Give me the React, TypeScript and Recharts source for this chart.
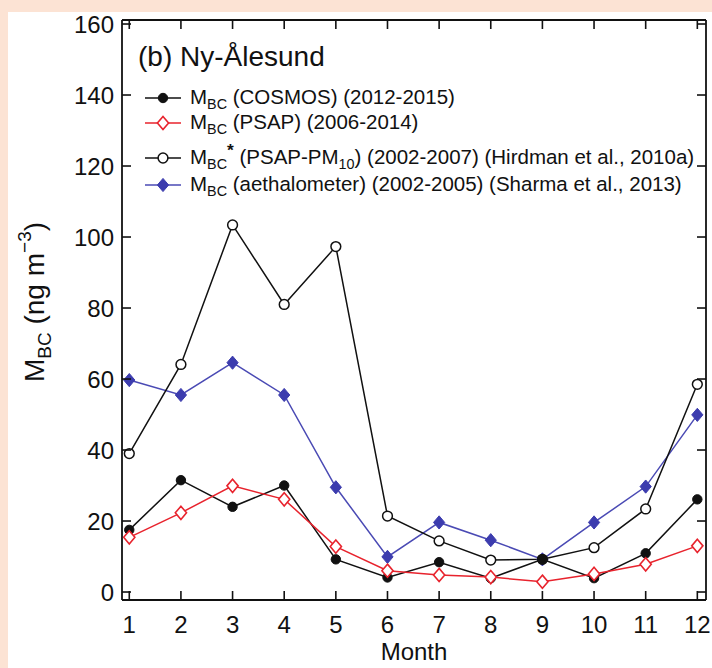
import React from "react";
import { LineChart, Line, XAxis, YAxis, Legend } from "recharts";

// monthly mean black carbon mass concentrations (ng m-3)
const months = [1, 2, 3, 4, 5, 6, 7, 8, 9, 10, 11, 12];
const cosmos = [17.5, 31.5, 24, 30, 9.2, 4.1, 8.4, 3.9, 9.2, 3.9, 10.9, 26.1];
const psap = [15.4, 22.3, 29.9, 26.1, 12.8, 6, 4.8, 4.2, 2.9, 5.1, 7.8, 13];
const psapPm10 = [39, 64.1, 103.4, 81, 97.3, 21.4, 14.4, 9, 9.2, 12.5, 23.4, 58.5];
const aethalometer = [59.7, 55.5, 64.6, 55.5, 29.5, 9.9, 19.6, 14.6, 9.2, 19.6, 29.7, 49.9];
const yTicks = [0, 20, 40, 60, 80, 100, 120, 140, 160];

const data = months.map((m, i) => ({
  month: m,
  cosmos: cosmos[i],
  psap: psap[i],
  psapPm10: psapPm10[i],
  aethalometer: aethalometer[i],
}));

const FONT = "'Liberation Sans', Arial, Helvetica, sans-serif";
const RED = "#e8232d";
const BLUE = "#4a4ab4";
const BLACK = "#111";

// plot box edges (px)
const LEFT = 122;
const RIGHT = 706;
const TOP = 20;
const BOTTOM = 600;
const TICK = 9;

const Marker = ({ kind, cx, cy, color }: any) => {
  if (cx == null || cy == null) return null;
  if (kind === "filledCircle")
    return <circle cx={cx} cy={cy} r={4.7} fill={color} stroke={color} strokeWidth={1} />;
  if (kind === "openCircle")
    return <circle cx={cx} cy={cy} r={4.9} fill="#fff" stroke={color} strokeWidth={1.5} />;
  const w = 5.6;
  const h = 6.6;
  const pts = `${cx},${cy - h} ${cx + w},${cy} ${cx},${cy + h} ${cx - w},${cy}`;
  if (kind === "openDiamond")
    return <polygon points={pts} fill="#fff" stroke={color} strokeWidth={1.6} />;
  return <polygon points={pts} fill="#3c3cae" stroke="#3c3cae" strokeWidth={1} />;
};

const series = [
  { key: "aethalometer", color: BLUE, marker: "filledDiamond" },
  { key: "psapPm10", color: BLACK, marker: "openCircle" },
  { key: "cosmos", color: BLACK, marker: "filledCircle" },
  { key: "psap", color: RED, marker: "openDiamond" },
];

const sub = { fontSize: "0.7em", position: "relative" as const, top: "0.35em" };
const sup = { fontSize: "0.85em", position: "relative" as const, top: "-0.45em", fontWeight: 700 };

const legendRows = [
  {
    color: BLACK,
    marker: "filledCircle",
    top: 98,
    label: (
      <>
        M<span style={sub}>BC</span> (COSMOS) (2012-2015)
      </>
    ),
  },
  {
    color: RED,
    marker: "openDiamond",
    top: 123,
    label: (
      <>
        M<span style={sub}>BC</span> (PSAP) (2006-2014)
      </>
    ),
  },
  {
    color: BLACK,
    marker: "openCircle",
    top: 158,
    label: (
      <>
        M<span style={sub}>BC</span>
        <span style={sup}>*</span> (PSAP-PM<span style={sub}>10</span>) (2002-2007) (Hirdman et al., 2010a)
      </>
    ),
  },
  {
    color: BLUE,
    marker: "filledDiamond",
    top: 185,
    label: (
      <>
        M<span style={sub}>BC</span> (aethalometer) (2002-2005) (Sharma et al., 2013)
      </>
    ),
  },
];

const renderLegend = () => (
  <div style={{ position: "relative", width: 712, height: 200, fontFamily: FONT, color: "#111" }}>
    <div style={{ position: "absolute", left: 138, top: 57 - 17, fontSize: 28, lineHeight: "34px" }}>
      (b) Ny-Ålesund
    </div>
    {legendRows.map((r, i) => (
      <div
        key={i}
        style={{ position: "absolute", left: 144, top: r.top - 12, height: 24, display: "flex", alignItems: "center", whiteSpace: "nowrap" }}
      >
        <svg width={40} height={24} style={{ display: "block" }}>
          <line x1={1} x2={37} y1={12} y2={12} stroke={r.color} strokeWidth={1.6} />
          <Marker kind={r.marker} cx={19} cy={12} color={r.color} />
        </svg>
        <span style={{ fontSize: 20.5, lineHeight: "24px", marginLeft: 6 }}>{r.label}</span>
      </div>
    ))}
  </div>
);

const BottomTick = (props: any) => {
  const c = props.payload.coordinate;
  return (
    <g>
      <line x1={c} x2={c} y1={BOTTOM} y2={BOTTOM - TICK} stroke={BLACK} strokeWidth={1.6} />
      <text x={c} y={633} textAnchor="middle" fontSize={24} fontFamily={FONT} fill={BLACK}>
        {props.payload.value}
      </text>
    </g>
  );
};

const TopTick = (props: any) => {
  const c = props.payload.coordinate;
  return <line x1={c} x2={c} y1={TOP} y2={TOP + TICK} stroke={BLACK} strokeWidth={1.6} />;
};

const LeftTick = (props: any) => {
  const c = props.payload.coordinate;
  return (
    <g>
      <line x1={LEFT} x2={LEFT + TICK} y1={c} y2={c} stroke={BLACK} strokeWidth={1.6} />
      <text x={114} y={c + 8.5} textAnchor="end" fontSize={24} fontFamily={FONT} fill={BLACK}>
        {props.payload.value}
      </text>
    </g>
  );
};

const RightTick = (props: any) => {
  const c = props.payload.coordinate;
  return <line x1={RIGHT} x2={RIGHT - TICK} y1={c} y2={c} stroke={BLACK} strokeWidth={1.6} />;
};

const yLabel = () => (
  <text transform="translate(44,302) rotate(-90)" textAnchor="middle" fontSize={28} fontFamily={FONT} fill={BLACK}>
    <tspan>M</tspan>
    <tspan fontSize={19} dy={7}>BC</tspan>
    <tspan dy={-7}> (ng m</tspan>
    <tspan fontSize={19} dy={-13}>−3</tspan>
    <tspan dy={13}>)</tspan>
  </text>
);

const xLabel = () => (
  <text x={(LEFT + RIGHT) / 2} y={660} textAnchor="middle" fontSize={24} fontFamily={FONT} fill={BLACK}>
    Month
  </text>
);

const axisLine = { stroke: BLACK, strokeWidth: 1.8 };
const xDomain = [0.859, 12.168];
const yDomain = [-2.25, 161.13];

export default function App() {
  return (
    <div style={{ position: "absolute", left: 0, top: 0, width: 712, height: 668, background: "#fce3d4", overflow: "hidden" }}>
      <div style={{ position: "absolute", left: 8, top: 12, right: 0, bottom: 0, background: "#fff" }} />
      <div style={{ position: "absolute", left: 0, top: 0 }}>
        <LineChart width={712} height={668} data={data} margin={{ top: TOP - 1, right: 712 - RIGHT - 1, bottom: 0, left: 0 }}>
          <XAxis
            xAxisId="b"
            type="number"
            dataKey="month"
            orientation="bottom"
            domain={xDomain}
            allowDataOverflow
            ticks={months}
            interval={0}
            height={668 - BOTTOM}
            axisLine={axisLine}
            tickLine={false}
            tick={BottomTick}
            label={{ content: xLabel }}
          />
          <XAxis
            xAxisId="t"
            type="number"
            dataKey="month"
            orientation="top"
            domain={xDomain}
            allowDataOverflow
            ticks={months}
            interval={0}
            height={1}
            axisLine={axisLine}
            tickLine={false}
            tick={TopTick}
          />
          <YAxis
            yAxisId="l"
            type="number"
            domain={yDomain}
            allowDataOverflow
            ticks={yTicks}
            interval={0}
            width={LEFT}
            axisLine={axisLine}
            tickLine={false}
            tick={LeftTick}
            label={{ content: yLabel }}
          />
          <YAxis
            yAxisId="r"
            type="number"
            orientation="right"
            domain={yDomain}
            allowDataOverflow
            ticks={yTicks}
            interval={0}
            width={1}
            axisLine={axisLine}
            tickLine={false}
            tick={RightTick}
          />
          {series.map((s) => (
            <Line
              key={s.key}
              xAxisId="b"
              yAxisId="l"
              dataKey={s.key}
              type="linear"
              stroke={s.color}
              strokeWidth={1.5}
              isAnimationActive={false}
              activeDot={false}
              dot={(p: any) => <Marker key={`${s.key}-${p.index}`} kind={s.marker} cx={p.cx} cy={p.cy} color={s.color} />}
            />
          ))}
          <Legend
            layout="vertical"
            align="center"
            verticalAlign="middle"
            content={renderLegend}
            wrapperStyle={{ left: 0, top: 0, width: 712, height: 200 }}
          />
        </LineChart>
      </div>
    </div>
  );
}
